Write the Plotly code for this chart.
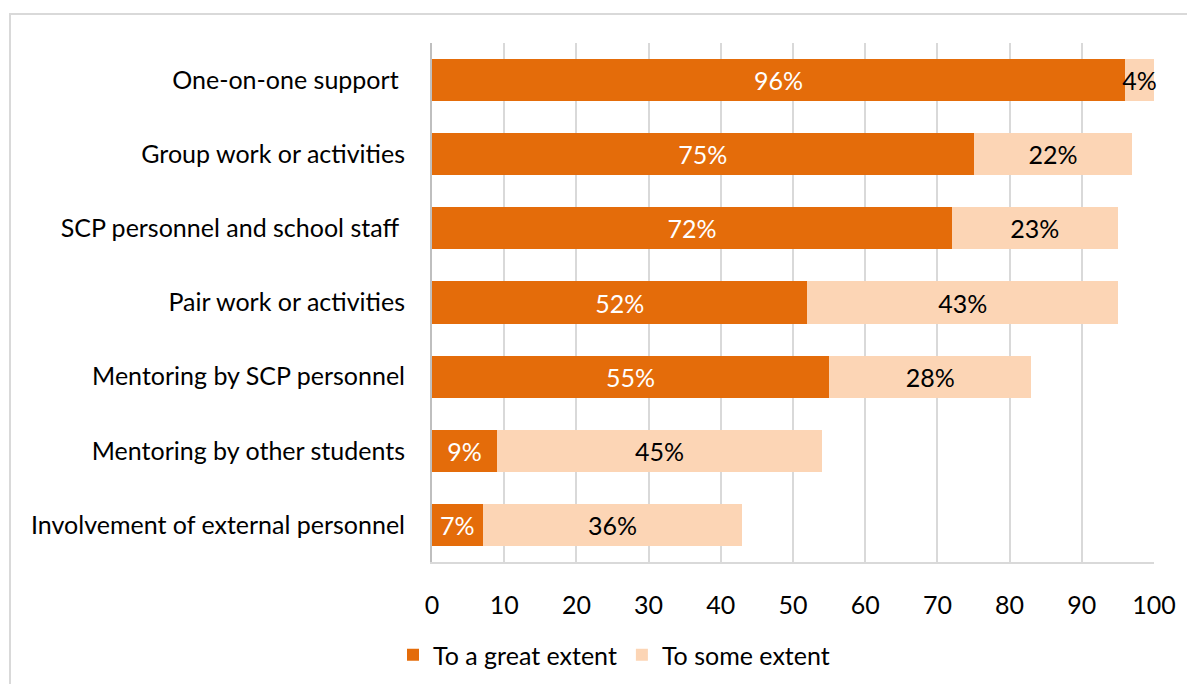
import plotly.graph_objects as go

categories = [
    "One-on-one support\u00a0",
    "Group work or activities",
    "SCP personnel and school staff\u00a0",
    "Pair work or activities",
    "Mentoring by SCP personnel",
    "Mentoring by other students",
    "Involvement of external personnel",
]
great_extent = [96, 75, 72, 52, 55, 9, 7]
some_extent = [4, 22, 23, 43, 28, 45, 36]
x_ticks = [0, 10, 20, 30, 40, 50, 60, 70, 80, 90, 100]

DARK = "#E46C0A"
LIGHT = "#FCD5B5"
FONT = "Lato"
FS = 25

fig = go.Figure()
fig.add_trace(go.Bar(
    y=categories, x=great_extent, orientation="h", name="To a great extent",
    marker=dict(color=DARK, line=dict(width=0)),
    text=[f"{v}%" for v in great_extent], textposition="inside", textangle=0,
    constraintext="none", insidetextanchor="middle",
    textfont=dict(color="white", size=FS, family=FONT),
    cliponaxis=False,
))
fig.add_trace(go.Bar(
    y=categories, x=some_extent, orientation="h", name="To some extent",
    marker=dict(color=LIGHT, line=dict(width=0)),
    text=[f"{v}%" for v in some_extent], textposition="inside", textangle=0,
    constraintext="none", insidetextanchor="middle",
    textfont=dict(color="black", size=FS, family=FONT),
    cliponaxis=False,
))

W, H = 1187, 684
ml, mr, mt, mb = 432, 33, 43, 122
pw, ph = W - ml - mr, H - mt - mb

def px_x(p):
    return (p - ml) / pw

def px_y(p):
    return (H - mb - p) / ph

fig.update_layout(
    width=W, height=H,
    margin=dict(l=ml, r=mr, t=mt, b=mb, pad=0, autoexpand=False),
    barmode="stack", bargap=0.43,
    paper_bgcolor="white", plot_bgcolor="white",
    font=dict(family=FONT, size=FS, color="black"),
    xaxis=dict(
        range=[0, 100], tickvals=x_ticks, showgrid=True, gridcolor="#D9D9D9",
        gridwidth=2, zeroline=False, showline=True, linecolor="#D9D9D9", linewidth=2,
        ticks="outside", ticklen=20, tickcolor="rgba(0,0,0,0)",
        tickfont=dict(size=FS, family=FONT), fixedrange=True, automargin=False,
    ),
    yaxis=dict(
        autorange="reversed", showgrid=False, showline=True, linecolor="#BFBFBF",
        linewidth=2, ticks="outside", ticklen=20, tickcolor="rgba(0,0,0,0)",
        tickfont=dict(size=FS, family=FONT), fixedrange=True, automargin=False,
    ),
    legend=dict(
        orientation="h", x=px_x(614), xanchor="center", y=px_y(655), yanchor="middle",
        font=dict(size=FS, family=FONT), traceorder="normal", itemwidth=30,
    ),
    shapes=[dict(
        type="rect", xref="paper", yref="paper",
        x0=px_x(10), x1=px_x(1195), y0=px_y(700), y1=px_y(14),
        line=dict(color="#D9D9D9", width=2), fillcolor="rgba(0,0,0,0)", layer="below",
    )],
)

fig.write_html("out.html")
